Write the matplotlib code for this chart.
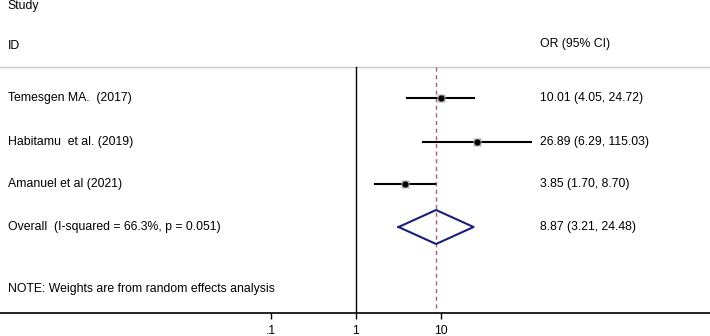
import matplotlib
matplotlib.use("Agg")
import matplotlib.pyplot as plt
from matplotlib.ticker import FixedLocator, FixedFormatter, NullLocator

plt.rcParams['font.family'] = ['Liberation Sans', 'DejaVu Sans']

studies = ['Temesgen MA.  (2017)', 'Habitamu  et al. (2019)', 'Amanuel et al (2021)']
or_vals = [10.01, 26.89, 3.85]
ci_low = [4.05, 6.29, 1.70]
ci_high = [24.72, 115.03, 8.70]
overall_label = 'Overall  (I-squared = 66.3%, p = 0.051)'
overall_or = 8.87
overall_low = 3.21
overall_high = 24.48
tick_vals = [0.1, 1, 10]
tick_labels = ['.1', '1', '10']
note = 'NOTE: Weights are from random effects analysis'

# layout (row positions in pixel-like units, top = 0)
row_y = [98, 141.5, 183.5]
overall_y = 227
header_line_y = 66.5
fs = 8.85

fig = plt.figure(figsize=(7.10, 3.36), dpi=100)
ax = fig.add_axes([0, 23 / 336, 1, 313 / 336])
ax.set_xscale('log')
# 1 sits at ~355.5 px, ~85 px per decade
ax.set_xlim(10 ** (-355.5 / 85), 10 ** ((710 - 355.5) / 85))
ax.set_ylim(313, 0)

for s in ['top', 'left', 'right']:
    ax.spines[s].set_visible(False)
ax.spines['bottom'].set_linewidth(1.2)
ax.yaxis.set_visible(False)
ax.xaxis.set_major_locator(FixedLocator(tick_vals))
ax.xaxis.set_major_formatter(FixedFormatter(tick_labels))
ax.xaxis.set_minor_locator(NullLocator())
ax.tick_params(axis='x', direction='out', length=4, width=1, labelsize=fs, pad=5)

ytr = ax.get_yaxis_transform()

# header
ax.axhline(header_line_y, color='#c8c8c8', lw=1)
ax.text(0.011, 5.5, 'Study', fontsize=fs, va='center', transform=ytr)
ax.text(0.011, 46, 'ID', fontsize=fs, va='center', transform=ytr)
ax.text(0.761, 44, 'OR (95% CI)', fontsize=fs, va='center', transform=ytr)

# null and overall lines
ax.plot([1, 1], [header_line_y, 313], color='black', lw=1)
ax.plot([overall_or, overall_or], [header_line_y, 313], color='#a8606e', lw=1,
        linestyle=(0, (3, 2.5)))

for name, o, lo, hi, y in zip(studies, or_vals, ci_low, ci_high, row_y):
    ax.plot([lo, hi], [y, y], color='black', lw=1.5, zorder=3)
    ax.plot([o], [y], marker='s', ms=6, color='#b4b4b4', mec='none', zorder=4)
    ax.plot([o], [y], marker='o', ms=3.5, color='black', zorder=5)
    ax.text(0.011, y, name, fontsize=fs, va='center', transform=ytr)
    ax.text(0.761, y, f'{o:.2f} ({lo:.2f}, {hi:.2f})', fontsize=fs, va='center',
            transform=ytr)

# overall diamond
ax.plot([overall_low, overall_or, overall_high, overall_or, overall_low],
        [overall_y, overall_y - 17, overall_y, overall_y + 17, overall_y],
        color='#1c1f78', lw=1.5, zorder=4)
ax.text(0.011, overall_y, overall_label, fontsize=fs, va='center', transform=ytr)
ax.text(0.761, overall_y, f'{overall_or:.2f} ({overall_low:.2f}, {overall_high:.2f})',
        fontsize=fs, va='center', transform=ytr)

ax.text(0.011, 289, note, fontsize=fs, va='center', transform=ytr)

fig.savefig('out.png', dpi=100, facecolor='white')
